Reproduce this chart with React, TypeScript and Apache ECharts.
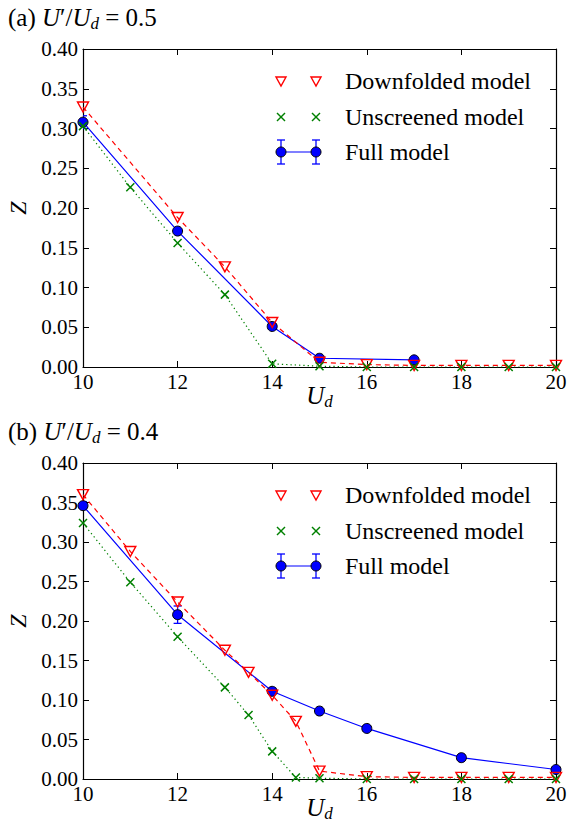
import React, { useEffect, useRef } from 'react';
import * as echarts from 'echarts';

// ---------- data ----------
const X_MIN = 10;
const X_MAX = 20;
const X_INTERVAL = 2;
const Y_MIN = 0;
const Y_MAX = 0.4;
const Y_INTERVAL = 0.05;

const LEGEND_LABELS = ['Downfolded model', 'Unscreened model', 'Full model'];
const PANEL_TITLES = ['(a) ', '(b) '];
const PANEL_RATIOS = ['0.5', '0.4'];

// panel (a): U'/Ud = 0.5
const downA: number[][] = [
  [10, 0.327], [12, 0.188], [13, 0.126], [14, 0.056], [15, 0.006],
  [16, 0.003], [17, 0.002], [18, 0.002], [19, 0.002], [20, 0.002],
];
const unscrA: number[][] = [
  [10, 0.303], [11, 0.226], [12, 0.156], [13, 0.091], [14, 0.004], [15, 0.001],
  [16, 0.0], [17, 0.0], [18, 0.0], [19, 0.0], [20, 0.0],
];
const fullA: number[][] = [
  [10, 0.308], [12, 0.171], [14, 0.051], [15, 0.011], [17, 0.009],
];
const fullErrA: number[] = [0.008, 0.003, 0.003, 0.002, 0.002];

// panel (b): U'/Ud = 0.4
const downB: number[][] = [
  [10, 0.36], [11, 0.288], [12, 0.224], [13, 0.163], [13.5, 0.135], [14, 0.106],
  [14.5, 0.073], [15, 0.01], [16, 0.003], [17, 0.002], [18, 0.002], [19, 0.002], [20, 0.002],
];
const unscrB: number[][] = [
  [10, 0.324], [11, 0.249], [12, 0.18], [13, 0.116], [13.5, 0.081], [14, 0.035],
  [14.5, 0.002], [15, 0.001], [16, 0.0], [17, 0.0], [18, 0.0], [19, 0.0], [20, 0.0],
];
const fullB: number[][] = [
  [10, 0.346], [12, 0.208], [14, 0.111], [15, 0.086], [16, 0.064], [18, 0.027], [20, 0.012],
];
const fullErrB: number[] = [0.005, 0.011, 0.004, 0.003, 0.003, 0.003, 0.003];

// ---------- style ----------
const FONT = '"Liberation Serif", "Times New Roman", "DejaVu Serif", serif';
const RED = '#ff0000';
const GREEN = '#008000';
const BLUE = '#0000ff';

const GRIDS = [
  { left: 83, top: 49, width: 473, height: 318 },
  { left: 83, top: 463, width: 473, height: 316 },
];

const X_PATH = 'path://M0,0L10,10M10,0L0,10';

function buildOption() {
  const xAxes: any[] = [];
  const yAxes: any[] = [];
  const series: any[] = [];
  const graphics: any[] = [];

  const richTitle = {
    n: { fontFamily: FONT, fontSize: 25, lineHeight: 28, color: '#000' },
    i: { fontFamily: FONT, fontSize: 25, fontStyle: 'italic', lineHeight: 28, color: '#000' },
    s: { fontFamily: FONT, fontSize: 17, fontStyle: 'italic', lineHeight: 28, padding: [12, 0, 0, 0], color: '#000' },
  };
  const richAxis = {
    i: { fontFamily: FONT, fontSize: 25, fontStyle: 'italic', lineHeight: 28, color: '#000' },
    s: { fontFamily: FONT, fontSize: 17, fontStyle: 'italic', lineHeight: 28, padding: [12, 0, 0, 0], color: '#000' },
  };

  const panels = [
    { down: downA, unscr: unscrA, full: fullA, err: fullErrA },
    { down: downB, unscr: unscrB, full: fullB, err: fullErrB },
  ];

  panels.forEach((p, k) => {
    const g = GRIDS[k];
    const xb = xAxes.length;
    const yl = yAxes.length;
    const tickCommon = { show: true, inside: true, length: 6, lineStyle: { color: '#000', width: 1 } };
    xAxes.push({
      type: 'value', gridIndex: k, min: X_MIN, max: X_MAX, interval: X_INTERVAL, position: 'bottom',
      axisLine: { show: true, onZero: false, lineStyle: { color: '#000', width: 1.2 } },
      axisTick: tickCommon,
      splitLine: { show: false },
      axisLabel: { color: '#000', fontFamily: FONT, fontSize: 21, margin: 4 },
      name: '{i|U}{s|d}', nameLocation: 'middle', nameGap: 14, nameMoveOverlap: false,
      nameTextStyle: { rich: richAxis },
    });
    xAxes.push({
      type: 'value', gridIndex: k, min: X_MIN, max: X_MAX, interval: X_INTERVAL, position: 'top',
      axisLine: { show: true, onZero: false, lineStyle: { color: '#000', width: 1.2 } },
      axisTick: tickCommon, splitLine: { show: false }, axisLabel: { show: false },
    });
    yAxes.push({
      type: 'value', gridIndex: k, min: Y_MIN, max: Y_MAX, interval: Y_INTERVAL, position: 'left',
      axisLine: { show: true, onZero: false, lineStyle: { color: '#000', width: 1.2 } },
      axisTick: tickCommon, splitLine: { show: false },
      axisLabel: { color: '#000', fontFamily: FONT, fontSize: 21, margin: 5, formatter: (v: number) => v.toFixed(2) },
      name: 'Z', nameLocation: 'middle', nameGap: 53, nameRotate: 90, nameMoveOverlap: false,
      nameTextStyle: { color: '#000', fontFamily: FONT, fontSize: 24, fontStyle: 'italic' },
    });
    yAxes.push({
      type: 'value', gridIndex: k, min: Y_MIN, max: Y_MAX, interval: Y_INTERVAL, position: 'right',
      axisLine: { show: true, onZero: false, lineStyle: { color: '#000', width: 1.2 } },
      axisTick: tickCommon, splitLine: { show: false }, axisLabel: { show: false },
    });

    const errData = p.full.map((d, i) => [d[0], d[1], p.err[i]]);
    series.push({
      type: 'custom', xAxisIndex: xb, yAxisIndex: yl, data: errData, encode: { x: 0, y: 1 }, clip: true,
      renderItem: (_params: any, api: any) => {
        const x = api.value(0), y = api.value(1), e = api.value(2);
        const t = api.coord([x, y + e]);
        const b = api.coord([x, y - e]);
        const hw = 4;
        const st = { stroke: BLUE, lineWidth: 1.3 };
        return {
          type: 'group', children: [
            { type: 'line', shape: { x1: t[0], y1: t[1], x2: b[0], y2: b[1] }, style: st },
            { type: 'line', shape: { x1: t[0] - hw, y1: t[1], x2: t[0] + hw, y2: t[1] }, style: st },
            { type: 'line', shape: { x1: b[0] - hw, y1: b[1], x2: b[0] + hw, y2: b[1] }, style: st },
          ],
        };
      },
    });
    series.push({
      type: 'line', name: LEGEND_LABELS[2], xAxisIndex: xb, yAxisIndex: yl, data: p.full,
      symbol: 'circle', symbolSize: 10, showSymbol: true,
      lineStyle: { color: BLUE, width: 1.2 },
      itemStyle: { color: BLUE, borderColor: '#000', borderWidth: 1 },
    });
    series.push({
      type: 'line', name: LEGEND_LABELS[0], xAxisIndex: xb, yAxisIndex: yl, data: p.down,
      symbol: 'triangle', symbolRotate: 180, symbolSize: [11, 10], showSymbol: true,
      lineStyle: { color: RED, width: 1.2, type: [5, 4] },
      itemStyle: { color: 'rgba(255,255,255,0)', borderColor: RED, borderWidth: 1.4 },
    });
    series.push({
      type: 'line', name: LEGEND_LABELS[1], xAxisIndex: xb, yAxisIndex: yl, data: p.unscr,
      symbol: X_PATH, symbolSize: 8, showSymbol: true,
      lineStyle: { color: GREEN, width: 1.2, type: [1.3, 3] },
      itemStyle: { color: 'none', borderColor: GREEN, borderWidth: 1.5 },
    });

    // title
    graphics.push({
      type: 'text', left: 8, top: g.top - 46,
      style: {
        text: `{n|${PANEL_TITLES[k]}}{i|U}{n|′/}{i|U}{s|d}{n| = ${PANEL_RATIOS[k]}}`,
        rich: richTitle,
      },
    });

    // legend
    const rowsY = [g.top + 32, g.top + 68, g.top + 103];
    const mx1 = 281, mx2 = 316, tx = 345;
    rowsY.forEach((ry, r) => {
      const children: any[] = [];
      [mx1, mx2].forEach((mx) => {
        if (r === 0) {
          children.push({
            type: 'polygon', shape: { points: [[mx - 5, ry - 4], [mx + 5, ry - 4], [mx, ry + 5]] },
            style: { fill: 'none', stroke: RED, lineWidth: 1.4 },
          });
        } else if (r === 1) {
          children.push({ type: 'line', shape: { x1: mx - 4, y1: ry - 4, x2: mx + 4, y2: ry + 4 }, style: { stroke: GREEN, lineWidth: 1.5 } });
          children.push({ type: 'line', shape: { x1: mx - 4, y1: ry + 4, x2: mx + 4, y2: ry - 4 }, style: { stroke: GREEN, lineWidth: 1.5 } });
        } else {
          const st = { stroke: BLUE, lineWidth: 1.3 };
          children.push({ type: 'line', shape: { x1: mx, y1: ry - 12, x2: mx, y2: ry + 12 }, style: st });
          children.push({ type: 'line', shape: { x1: mx - 4, y1: ry - 12, x2: mx + 4, y2: ry - 12 }, style: st });
          children.push({ type: 'line', shape: { x1: mx - 4, y1: ry + 12, x2: mx + 4, y2: ry + 12 }, style: st });
        }
      });
      if (r === 2) {
        children.push({ type: 'line', shape: { x1: mx1, y1: ry, x2: mx2, y2: ry }, style: { stroke: BLUE, lineWidth: 1.2 } });
        [mx1, mx2].forEach((mx) => children.push({
          type: 'circle', shape: { cx: mx, cy: ry, r: 5 }, style: { fill: BLUE, stroke: '#000', lineWidth: 1 },
        }));
      }
      children.push({
        type: 'text', x: tx, y: ry,
        style: { text: LEGEND_LABELS[r], fill: '#000', fontFamily: FONT, fontSize: 24, verticalAlign: 'middle' },
      });
      graphics.push({ type: 'group', children });
    });
  });

  return {
    animation: false,
    backgroundColor: '#fff',
    textStyle: { fontFamily: FONT },
    grid: GRIDS.map((g) => ({ ...g, containLabel: false, outerBoundsMode: 'none', show: false })),
    xAxis: xAxes,
    yAxis: yAxes,
    series,
    graphic: graphics,
  };
}

export default function App() {
  const ref = useRef<HTMLDivElement>(null);
  useEffect(() => {
    if (!ref.current) return;
    const chart = echarts.init(ref.current, undefined, { renderer: 'svg' });
    chart.setOption(buildOption() as any);
    return () => chart.dispose();
  }, []);
  return (
    <div
      ref={ref}
      style={{ position: 'fixed', left: 0, top: 0, width: 567, height: 833, background: '#fff' }}
    />
  );
}
